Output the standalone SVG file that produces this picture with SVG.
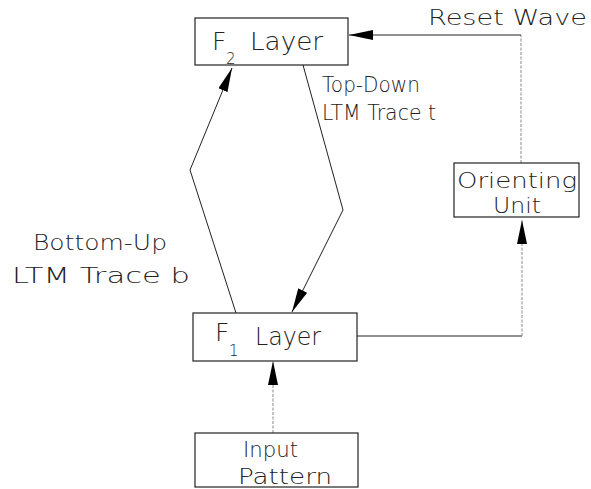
<svg xmlns="http://www.w3.org/2000/svg" width="591" height="489" viewBox="0 0 591 489">
<style>
.box{fill:#fff;stroke:#222;stroke-width:1.2}
.ln{fill:none;stroke:#222;stroke-width:1}
.dot{fill:none;stroke:#888;stroke-width:1;stroke-dasharray:3 1.5}
text{font-family:"DejaVu Sans","Liberation Sans",sans-serif;font-weight:200;fill:#222}
.t{font-size:22px}
.f{font-size:25px}
.s{font-size:15px}
</style>
<defs>
<marker id="ah" viewBox="0 0 24 10" refX="24" refY="5" markerWidth="24" markerHeight="10" markerUnits="userSpaceOnUse" orient="auto">
<path d="M0,0 L24,5 L0,10 z" fill="#000"/>
</marker>
</defs>
<g id="connectors">
<path class="ln" d="M236,313 L190,170 L232,68" marker-end="url(#ah)"/>
<path class="ln" d="M303,65 L343,210 L292,312" marker-end="url(#ah)"/>
<path class="dot" d="M521,163 L521,35"/>
<path class="ln" d="M521,35 L349,35" marker-end="url(#ah)"/>
<path class="ln" d="M357,336 L522,336"/>
<path class="dot" d="M522,336 L522,220" marker-end="url(#ah)"/>
<path class="dot" d="M273,433 L273,361" marker-end="url(#ah)"/>
</g>
<g id="f2">
<rect class="box" x="195" y="18" width="153" height="47"/>
<text class="f" x="212" y="50">F</text>
<text class="s" x="226" y="64">2</text>
<text class="f" x="250" y="50" textLength="73" lengthAdjust="spacingAndGlyphs">Layer</text>
</g>
<g id="f1">
<rect class="box" x="193" y="313" width="164" height="48"/>
<text class="f" x="215" y="341">F</text>
<text class="s" x="229" y="356">1</text>
<text class="f" x="255" y="345" textLength="66" lengthAdjust="spacingAndGlyphs">Layer</text>
</g>
<g id="orienting">
<rect class="box" x="454" y="163" width="125" height="54"/>
<text class="t" x="457" y="188" textLength="120" lengthAdjust="spacingAndGlyphs">Orienting</text>
<text class="t" x="493" y="213" textLength="48" lengthAdjust="spacingAndGlyphs">Unit</text>
</g>
<g id="input">
<rect class="box" x="195" y="433" width="163" height="54"/>
<text class="t" x="243" y="457" textLength="55" lengthAdjust="spacingAndGlyphs">Input</text>
<text class="t" x="238" y="484" textLength="94" lengthAdjust="spacingAndGlyphs">Pattern</text>
</g>
<g id="labels">
<text class="t" x="428" y="25" textLength="159" lengthAdjust="spacingAndGlyphs">Reset Wave</text>
<text class="t" x="322" y="92" textLength="98" lengthAdjust="spacingAndGlyphs">Top-Down</text>
<text class="t" x="322" y="120" textLength="114" lengthAdjust="spacingAndGlyphs">LTM Trace t</text>
<text class="t" x="33" y="250" textLength="134" lengthAdjust="spacingAndGlyphs">Bottom-Up</text>
<text class="t" x="12" y="283" textLength="178" lengthAdjust="spacingAndGlyphs">LTM Trace b</text>
</g>
</svg>
